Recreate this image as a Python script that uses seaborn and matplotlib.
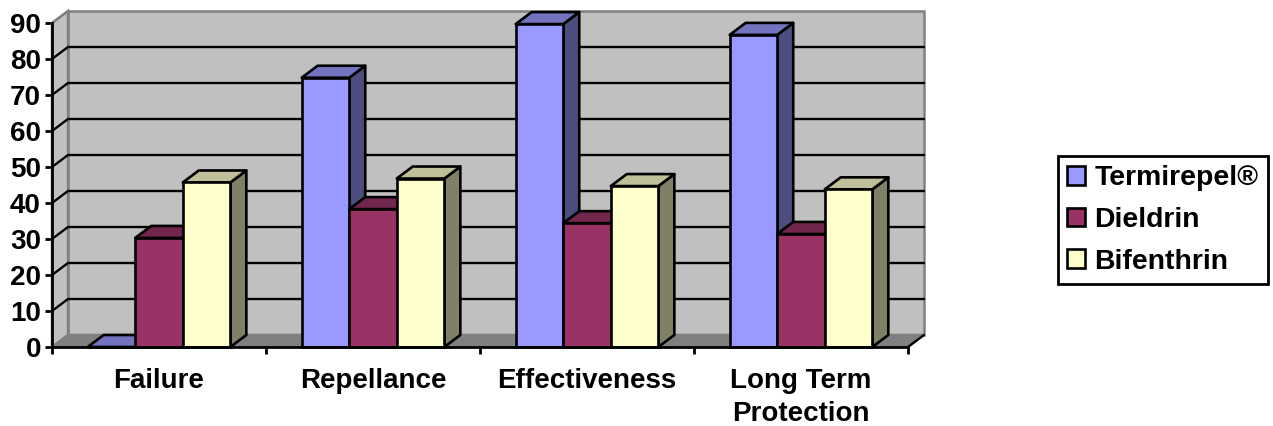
import numpy as np
import pandas as pd
import seaborn as sns
import matplotlib.pyplot as plt
from matplotlib.patches import Polygon

categories = ["Failure", "Repellance", "Effectiveness", "Long Term\nProtection"]
termirepel = [0, 74.8, 89.7, 86.7]
dieldrin = [30.3, 38.3, 34.4, 31.4]
bifenthrin = [45.7, 46.8, 44.7, 43.8]
series_names = ["Termirepel®", "Dieldrin", "Bifenthrin"]
series_colors = ["#9999FF", "#993366", "#FFFFCC"]
y_ticks = list(range(0, 100, 10))

W, H = 1273, 426
LEFT, RIGHT, BOTTOM, TOP = 52, 908, 347, 23   # front plane in pixels
DEPTH_X, DEPTH_Y = 16, 12                     # 3d offset in pixels
WALL = "#C0C0C0"
FLOOR = "#808080"

sns.set_theme(style="white")
plt.rcParams["font.family"] = ["Liberation Sans", "DejaVu Sans"]

data = pd.DataFrame({
    "category": categories * 3,
    "series": np.repeat(series_names, len(categories)),
    "value": termirepel + dieldrin + bifenthrin,
})

fig = plt.figure(figsize=(W / 100, H / 100), dpi=100)
ax = fig.add_axes([LEFT / W, 1 - BOTTOM / H, (RIGHT - LEFT) / W, (BOTTOM - TOP) / H])
ax.patch.set_visible(False)

sns.barplot(data=data, x="category", y="value", hue="series", order=categories,
            hue_order=series_names, palette=series_colors, width=2 / 3, saturation=1,
            edgecolor="black", linewidth=1.9, ax=ax, zorder=3)

ax.set_xlim(-0.5, len(categories) - 0.5)
ax.set_ylim(0, 90)
x0, x1 = ax.get_xlim()
dx = DEPTH_X * (x1 - x0) / (RIGHT - LEFT)
dy = DEPTH_Y * 90 / (BOTTOM - TOP)

# walls and floor
ax.add_patch(Polygon([(x0 + dx, dy), (x1 + dx, dy), (x1 + dx, 90 + dy), (x0 + dx, 90 + dy)],
                     fc=WALL, ec=FLOOR, lw=1.8, clip_on=False, zorder=1))
ax.add_patch(Polygon([(x0, 0), (x0 + dx, dy), (x0 + dx, 90 + dy), (x0, 90)],
                     fc=WALL, ec=FLOOR, lw=1.8, clip_on=False, zorder=1))
ax.add_patch(Polygon([(x0, 0), (x1, 0), (x1 + dx, dy * 1.05), (x0 + dx, dy * 1.05)],
                     fc=FLOOR, ec=FLOOR, lw=1, clip_on=False, zorder=1.2))
ax.plot([x1, x1 + dx], [0, dy], color="black", lw=1.7, clip_on=False, zorder=1.3)

# gridlines run along the side wall and the back wall
for v in y_ticks[1:-1]:
    ax.plot([x0, x0 + dx, x1 + dx], [v, v + dy, v + dy], color="black", lw=1.7,
            clip_on=False, zorder=1.5)
ax.plot([x0, x0 + dx], [90, 90 + dy], color=FLOOR, lw=1.5, clip_on=False, zorder=1.5)

# side and top faces for each bar, left to right so they overlap like the original
for container in ax.containers:
    for bar in container:
        xa, xb = bar.get_x(), bar.get_x() + bar.get_width()
        top = bar.get_height()
        rgb = np.array(bar.get_facecolor()[:3])
        order = 3 + (xa - x0) * 0.1
        bar.set_zorder(order + 0.002)
        bar.set_clip_on(False)
        ax.add_patch(Polygon([(xb, 0), (xb + dx, dy), (xb + dx, top + dy), (xb, top)],
                             fc=rgb * 0.5, ec="black", lw=1.9, joinstyle="round",
                             clip_on=False, zorder=order))
        ax.add_patch(Polygon([(xa, top), (xb, top), (xb + dx, top + dy), (xa + dx, top + dy)],
                             fc=rgb * 0.75, ec="black", lw=1.9, joinstyle="round",
                             clip_on=False, zorder=order + 0.001))

for side in ["top", "right"]:
    ax.spines[side].set_visible(False)
for side in ["left", "bottom"]:
    ax.spines[side].set_color("black")
    ax.spines[side].set_linewidth(2)
    ax.spines[side].set_zorder(6)

ax.set_xlabel("")
ax.set_ylabel("")
ax.set_yticks(y_ticks)
ax.set_xticks(np.arange(x0, x1 + 0.5))
ax.set_xticklabels([])
ax.set_xticks(range(len(categories)), categories, minor=True, fontsize=20, fontweight="bold",
              color="black", linespacing=1.35)
ax.tick_params(axis="x", which="major", bottom=True, length=5, width=2, color="black")
ax.tick_params(axis="x", which="minor", bottom=False, length=0, pad=15)
ax.tick_params(axis="y", left=True, length=5, width=2, color="black", pad=3)
for label in ax.get_yticklabels():
    label.set_fontsize(20)
    label.set_fontweight("bold")
    label.set_color("black")

sns.move_legend(ax, "upper left", bbox_to_anchor=(1058 / W, 1 - 156 / H),
                bbox_transform=fig.transFigure, title=None, frameon=True, fancybox=False,
                framealpha=1, edgecolor="black", borderaxespad=0, borderpad=0.33,
                handlelength=0.62, handleheight=0.62, handletextpad=0.33, labelspacing=0.55,
                prop={"size": 20.4, "weight": "bold"})
legend = ax.get_legend()
legend.get_frame().set_linewidth(2)
legend.set_zorder(10)
for text in legend.get_texts():
    text.set_color("black")

fig.savefig("out.png", dpi=100)
